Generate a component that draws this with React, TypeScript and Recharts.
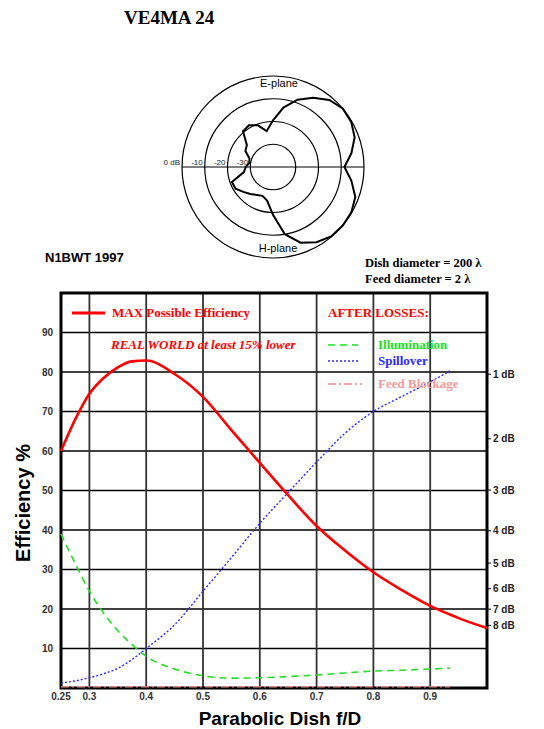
import {
  LineChart, Line, XAxis, YAxis, CartesianGrid, ReferenceArea,
  RadarChart, Radar, PolarGrid, PolarAngleAxis, PolarRadiusAxis,
} from 'recharts'

// f/D sample points
const fd = [0.25, 0.275, 0.3, 0.325, 0.35, 0.375, 0.4, 0.45, 0.5, 0.55, 0.6, 0.65, 0.7, 0.75, 0.8, 0.85, 0.9, 0.935, 0.95, 1.0]

// efficiency %
const maxEfficiency = [60, 68, 74.5, 78.5, 81.2, 82.7, 82.9, 79.5, 73.7, 65.3, 57, 48.8, 41, 34.8, 29.3, 24.8, 20.8, 18.6, 17.7, 15.2]
const illumination = [39, 31.5, 24.5, 19, 14.5, 11, 8, 4.8, 3.1, 2.5, 2.6, 2.9, 3.3, 3.8, 4.3, 4.5, 4.8, 5.0, null, null]
const spillover = [1.3, 1.8, 2.6, 3.6, 5, 7.2, 10, 16, 24.5, 33, 41.7, 49.5, 57.2, 64.5, 70, 73.8, 77.5, 80.3, null, null]
const feedBlockage = [0.3, 0.3, 0.3, 0.3, 0.3, 0.3, 0.3, 0.3, 0.3, 0.3, 0.3, 0.3, 0.3, 0.3, 0.3, 0.3, 0.3, 0.3, null, null]

const xTicks = [0.25, 0.3, 0.4, 0.5, 0.6, 0.7, 0.8, 0.9]
const yTicks = [10, 20, 30, 40, 50, 60, 70, 80, 90]
const dbLoss = [1, 2, 3, 4, 5, 6, 7, 8]

// feed pattern: angle (deg, 0 = boresight, ccw), level in dB
// upper half E-plane, lower half H-plane
const patternAngle = [0, 10, 20, 30, 40, 50, 60, 70, 80, 90, 100, 110, 120, 130, 140, 150, 160, 170,
  180, 190, 200, 210, 220, 230, 240, 250, 260, 270, 280, 290, 300, 310, 320, 330, 340, 350, 360]
const patternDb = [-8.6, -5, -1.8, -0.3, 0, -1.5, -4.8, -8.5, -13.5, -19.5, -24, -20.5, -18.8, -19.5, -25, -26, -29, -29.4,
  -28, -27, -20.8, -21, -23, -24.5, -25.8, -26.5, -25, -19, -10, -4.6, -1.8, -0.2, 0, -0.2, -1.5, -5, -8.6]
const ringTicks = [0, 10, 20, 30, 40]
const ringLabels = ['', '-30', '-20', '-10', '0 dB']

const rows = fd.map((x, i) => ({
  fd: x,
  max: maxEfficiency[i],
  illum: illumination[i],
  spill: spillover[i],
  block: feedBlockage[i],
}))

const pattern = patternAngle.map((a, i) => ({ angle: a, level: patternDb[i] + 40 }))

const SANS = '"Liberation Sans", Arial, sans-serif'
const SERIF = '"Liberation Serif", "Times New Roman", serif'

const RingTick = ({ x, y, payload }: any) => {
  const idx = ringTicks.indexOf(payload.value)
  const label = ringLabels[idx]
  if (!label) return null
  return (
    <text x={x - 2} y={y - 2} textAnchor="end" fontSize={8} fontFamily={SANS} fill="#222">
      {label}
    </text>
  )
}

export default function App() {
  const tickStyle = { fontSize: 10, fontWeight: 700, fontFamily: SANS, fill: '#333' }

  return (
    <div style={{ position: 'absolute', left: 0, top: 0, width: 544, height: 729, background: '#fff' }}>
      {/* main efficiency chart */}
      <div style={{ position: 'absolute', left: 0, top: 0 }}>
        <LineChart width={544} height={729} data={rows} margin={{ top: 293, right: 0, bottom: 0, left: 31 }}>
          <CartesianGrid vertical={false} stroke="#000" strokeWidth={1.4} />
          <CartesianGrid horizontal={false} stroke="#333" strokeWidth={1.8} />
          <XAxis
            type="number"
            dataKey="fd"
            domain={[0.25, 1]}
            ticks={xTicks}
            tickFormatter={(v: number) => String(v)}
            tickLine={false}
            axisLine={false}
            tickSize={0}
            tickMargin={5}
            height={41}
            tick={tickStyle}
          />
          <YAxis
            type="number"
            domain={[0, 100]}
            ticks={yTicks}
            tickLine={false}
            axisLine={false}
            tickSize={0}
            tickMargin={8}
            width={30}
            tick={tickStyle}
          />
          <YAxis
            yAxisId="right"
            orientation="right"
            type="number"
            domain={[0, 100]}
            ticks={dbLoss.map((d) => 100 * Math.pow(10, -d / 10))}
            tickFormatter={(v: number) => `${Math.round(-10 * Math.log10(v / 100))} dB`}
            axisLine={false}
            tickLine={{ stroke: '#000', strokeWidth: 1 }}
            tickSize={4}
            tickMargin={2}
            width={57}
            tick={{ ...tickStyle, fill: '#222' }}
          />
          <Line yAxisId="right" type="monotone" dataKey="max" stroke="none" dot={false} activeDot={false} legendType="none" isAnimationActive={false} />
          <Line type="monotone" dataKey="block" stroke="#f08a8a" strokeWidth={1.3} strokeDasharray="8 3 2 3" dot={false} isAnimationActive={false} />
          <Line type="monotone" dataKey="illum" stroke="#22e022" strokeWidth={1.6} strokeDasharray="7 5" dot={false} isAnimationActive={false} />
          <Line type="monotone" dataKey="spill" stroke="#2a2aff" strokeWidth={1.4} strokeDasharray="2 2" dot={false} isAnimationActive={false} />
          <Line type="monotone" dataKey="max" stroke="#ff0000" strokeWidth={2.6} dot={false} isAnimationActive={false} />
          <ReferenceArea x1={0.25} x2={1} y1={0} y2={100} fill="none" stroke="#000" strokeWidth={3} ifOverflow="visible" />
        </LineChart>
      </div>

      {/* feed polar pattern */}
      <div style={{ position: 'absolute', left: 143, top: 67 }}>
        <RadarChart width={260} height={200} cx={130} cy={100} outerRadius={91} data={pattern} startAngle={0} endAngle={360} margin={{ top: 0, right: 0, bottom: 0, left: 0 }}>
          <PolarGrid gridType="circle" polarAngles={[0, 180]} stroke="#000" strokeWidth={1.2} />
          <PolarAngleAxis type="number" dataKey="angle" domain={[0, 360]} tick={false} axisLine={false} />
          <PolarRadiusAxis angle={180} domain={[0, 40]} ticks={ringTicks} tickCount={5} axisLine={false} tick={<RingTick />} />
          <Radar dataKey="level" stroke="#000" strokeWidth={2} fill="none" dot={false} isAnimationActive={false} />
        </RadarChart>
      </div>

      {/* texts and legend */}
      <svg width={544} height={729} style={{ position: 'absolute', left: 0, top: 0, pointerEvents: 'none' }}>
        <text x={124} y={24} fontFamily={SERIF} fontWeight={700} fontSize={19} fill="#000">VE4MA 24</text>
        <text x={279} y={87} textAnchor="middle" fontFamily={SANS} fontSize={11} fill="#000">E-plane</text>
        <text x={278} y={252} textAnchor="middle" fontFamily={SANS} fontSize={11} fill="#000">H-plane</text>
        <text x={45} y={262} fontFamily={SANS} fontWeight={700} fontSize={13} fill="#000">N1BWT 1997</text>
        <text x={365} y={267} fontFamily={SERIF} fontWeight={700} fontSize={12.5} fill="#000">Dish diameter = 200 λ</text>
        <text x={365} y={283} fontFamily={SERIF} fontWeight={700} fontSize={12.5} fill="#000">Feed diameter = 2 λ</text>

        <line x1={72} x2={105} y1={313} y2={313} stroke="#ff0000" strokeWidth={3} />
        <text x={112} y={317} fontFamily={SERIF} fontWeight={700} fontSize={13} fill="#ff0000">MAX Possible Efficiency</text>
        <text x={328} y={317} fontFamily={SERIF} fontWeight={700} fontSize={13} fill="#ff0000">AFTER LOSSES:</text>
        <text x={111} y={349} fontFamily={SERIF} fontWeight={700} fontStyle="italic" fontSize={13} fill="#ff0000">REAL WORLD at least 15% lower</text>

        <line x1={328} x2={358} y1={345} y2={345} stroke="#22e022" strokeWidth={1.6} strokeDasharray="7 5" />
        <text x={378} y={349} fontFamily={SERIF} fontWeight={700} fontSize={13} fill="#22e022">Illumination</text>
        <line x1={328} x2={360} y1={361} y2={361} stroke="#2a2aff" strokeWidth={1.4} strokeDasharray="2 2" />
        <text x={378} y={365} fontFamily={SERIF} fontWeight={700} fontSize={13} fill="#2a2aff">Spillover</text>
        <line x1={328} x2={362} y1={384} y2={384} stroke="#f08a8a" strokeWidth={1.3} strokeDasharray="8 3 2 3" />
        <text x={378} y={388} fontFamily={SERIF} fontWeight={700} fontSize={13} fill="#f79a9a">Feed Blockage</text>

        <text x={30} y={503} textAnchor="middle" transform="rotate(-90 30 503)" fontFamily={SANS} fontWeight={700} fontSize={20} fill="#000">Efficiency %</text>
        <text x={280} y={725} textAnchor="middle" fontFamily={SANS} fontWeight={700} fontSize={19} fill="#000">Parabolic Dish f/D</text>
      </svg>
    </div>
  )
}
